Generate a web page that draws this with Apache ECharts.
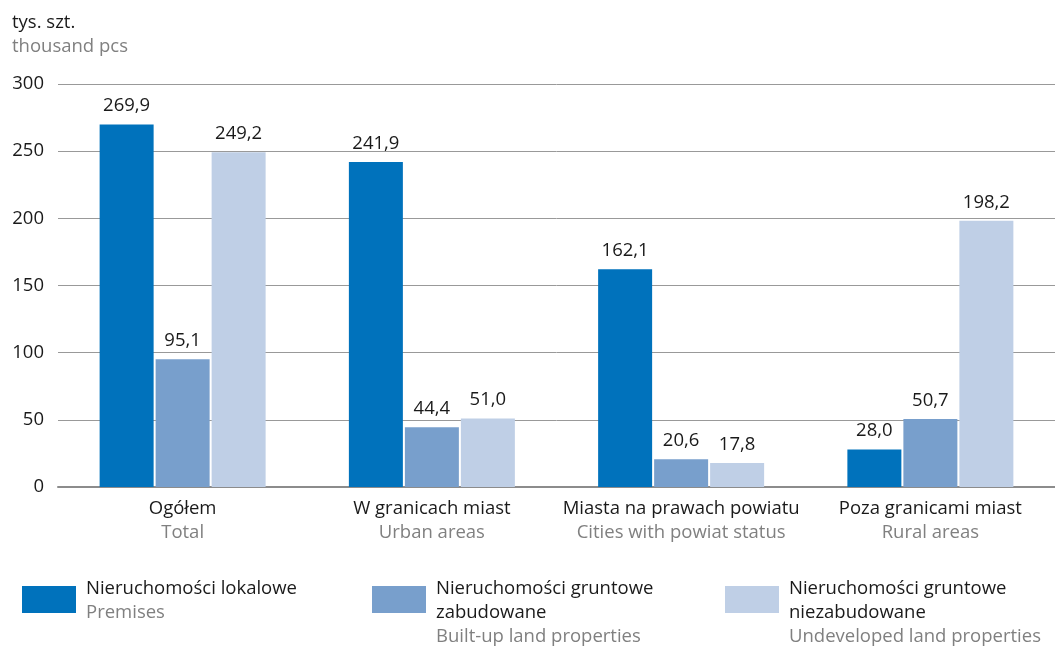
<!DOCTYPE html>
<html>
<head>
<meta charset="utf-8">
<script src="https://cdn.jsdelivr.net/npm/echarts@6/dist/echarts.min.js"></script>
<style>
    html, body { margin: 0; padding: 0; background: #fff; }
    #chart { width: 1055px; height: 646px; }
</style>
</head>
<body>
<div id="chart"></div>
<script>
// categories (Polish / English)
const categoriesPl = ['Ogółem', 'W granicach miast', 'Miasta na prawach powiatu', 'Poza granicami miast'];
const categoriesEn = ['Total', 'Urban areas', 'Cities with powiat status', 'Rural areas'];

// series
const seriesNamesPl = ['Nieruchomości lokalowe', 'Nieruchomości gruntowe\nzabudowane', 'Nieruchomości gruntowe\nniezabudowane'];
const seriesNamesEn = ['Premises', 'Built-up land properties', 'Undeveloped land properties'];
const premises = [269.9, 241.9, 162.1, 28.0];
const builtUp = [95.1, 44.4, 20.6, 50.7];
const undeveloped = [249.2, 51.0, 17.8, 198.2];

const colors = ['#0072bc', '#789fcc', '#bfcfe6'];
const font = 'Open Sans';
const fs = 18.5;

const chart = echarts.init(document.getElementById('chart'));

const values = [premises, builtUp, undeveloped];
const series = values.map((data, i) => ({
    name: seriesNamesPl[i],
    type: 'bar',
    data: data,
    barWidth: 54,
    barGap: '3.7%',
    itemStyle: { color: colors[i] },
    label: {
        show: true,
        position: 'top',
        distance: 9,
        color: '#1a1a1a',
        fontFamily: font,
        fontSize: fs,
        formatter: p => p.value.toFixed(1).replace('.', ',')
    }
}));

// legend drawn as graphic blocks (swatch + bilingual text)
const legendX = [22, 372, 725];
const legendGraphic = [];
seriesNamesPl.forEach((name, i) => {
    legendGraphic.push({
        type: 'rect',
        left: legendX[i],
        top: 586,
        shape: { width: 54, height: 27 },
        style: { fill: colors[i] }
    });
    legendGraphic.push({
        type: 'text',
        left: legendX[i] + 64,
        top: 579,
        style: {
            text: '{pl|' + name.split('\n').join('}\n{pl|') + '}\n{en|' + seriesNamesEn[i] + '}',
            rich: {
                pl: { fontFamily: font, fontSize: fs, fill: '#1a1a1a', lineHeight: 24 },
                en: { fontFamily: font, fontSize: fs, fill: '#808080', lineHeight: 24 }
            }
        }
    });
});

const option = {
    animation: false,
    title: {
        text: 'tys. szt.',
        subtext: 'thousand pcs',
        left: 7,
        top: 8,
        itemGap: 5,
        textStyle: { fontFamily: font, fontSize: fs, fontWeight: 'normal', color: '#1a1a1a' },
        subtextStyle: { fontFamily: font, fontSize: fs, color: '#808080' }
    },
    grid: {
        left: 58,
        right: -2,
        top: 84,
        bottom: 159
    },
    xAxis: {
        type: 'category',
        data: categoriesPl,
        axisTick: { show: false },
        axisLine: { lineStyle: { color: '#8c8c8c', width: 2 } },
        axisLabel: {
            margin: 10,
            formatter: (v, idx) => '{pl|' + v + '}\n{en|' + categoriesEn[idx] + '}',
            rich: {
                pl: { fontFamily: font, fontSize: fs, color: '#1a1a1a', lineHeight: 24 },
                en: { fontFamily: font, fontSize: fs, color: '#808080', lineHeight: 24 }
            }
        }
    },
    yAxis: {
        type: 'value',
        min: 0,
        max: 300,
        interval: 50,
        axisLine: { show: false },
        axisTick: { show: false },
        axisLabel: { margin: 14, color: '#1a1a1a', fontFamily: font, fontSize: fs },
        splitLine: { lineStyle: { color: '#999999', width: 1 } }
    },
    graphic: legendGraphic,
    series: series
};

chart.setOption(option);
</script>
</body>
</html>
